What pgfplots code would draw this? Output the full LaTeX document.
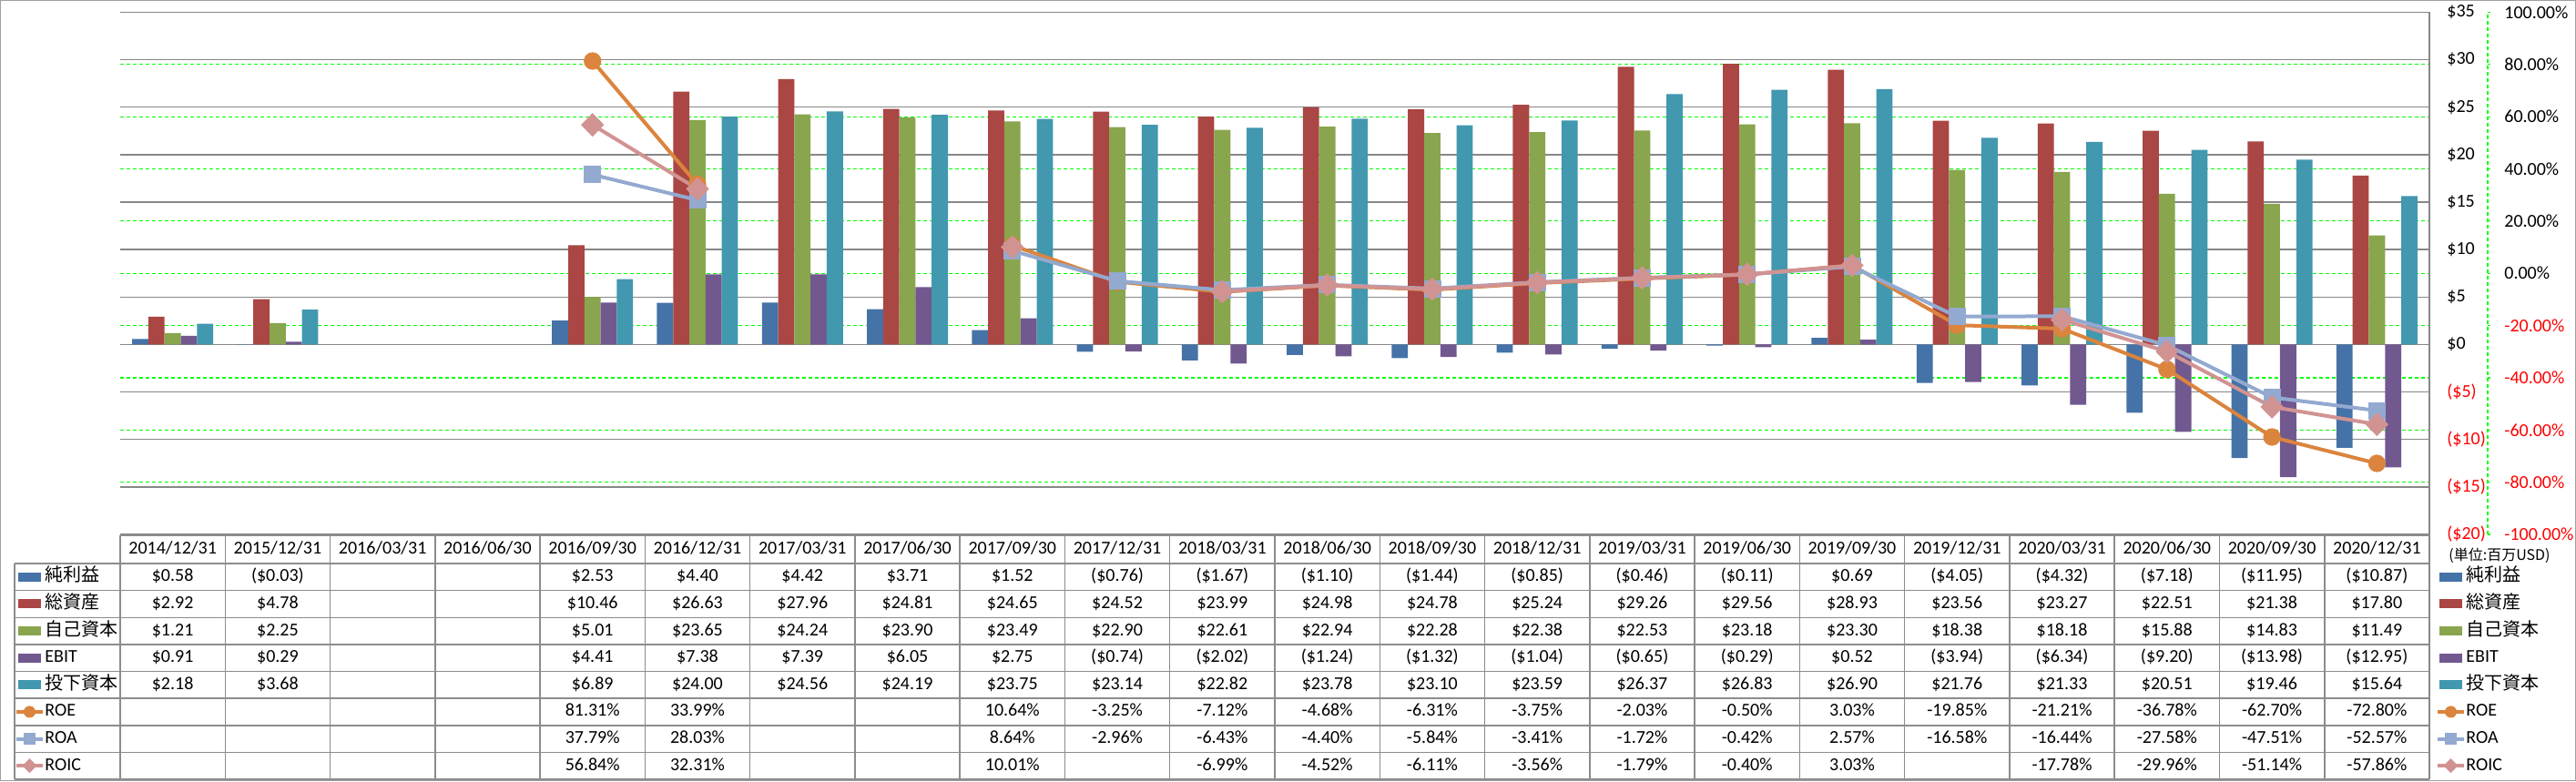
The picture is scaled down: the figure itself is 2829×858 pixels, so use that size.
\documentclass[border=0pt]{standalone}
\usepackage{fontspec}
\setmainfont{Carlito}
\newfontfamily\jp{Noto Sans CJK JP}
\usepackage{pgfplots}
\usepackage{pgfplotstable}
\pgfplotsset{compat=1.18}

\definecolor{cNI}{HTML}{4572A7}
\definecolor{cTA}{HTML}{AA4643}
\definecolor{cEQ}{HTML}{89A54E}
\definecolor{cEB}{HTML}{71588F}
\definecolor{cIC}{HTML}{4198AF}
\definecolor{cROE}{HTML}{DB843D}
\definecolor{cROA}{HTML}{93A9CF}
\definecolor{cROIC}{HTML}{D19392}
\definecolor{gridgray}{HTML}{878787}
\definecolor{tblgray}{HTML}{8C8C8C}
\definecolor{ggreen}{HTML}{00FF00}

\pgfplotstableread{
i  ni     ta     eq     eb     ic     roe    roa    roic
0  0.58   2.92   1.21   0.91   2.18   nan    nan    nan
1  -0.03  4.78   2.25   0.29   3.68   nan    nan    nan
2  nan    nan    nan    nan    nan    nan    nan    nan
3  nan    nan    nan    nan    nan    nan    nan    nan
4  2.53   10.46  5.01   4.41   6.89   81.31  37.79  56.84
5  4.40   26.63  23.65  7.38   24.00  33.99  28.03  32.31
6  4.42   27.96  24.24  7.39   24.56  nan    nan    nan
7  3.71   24.81  23.90  6.05   24.19  nan    nan    nan
8  1.52   24.65  23.49  2.75   23.75  10.64  8.64   10.01
9  -0.76  24.52  22.90  -0.74  23.14  -3.25  -2.96  nan
10 -1.67  23.99  22.61  -2.02  22.82  -7.12  -6.43  -6.99
11 -1.10  24.98  22.94  -1.24  23.78  -4.68  -4.40  -4.52
12 -1.44  24.78  22.28  -1.32  23.10  -6.31  -5.84  -6.11
13 -0.85  25.24  22.38  -1.04  23.59  -3.75  -3.41  -3.56
14 -0.46  29.26  22.53  -0.65  26.37  -2.03  -1.72  -1.79
15 -0.11  29.56  23.18  -0.29  26.83  -0.50  -0.42  -0.40
16 0.69   28.93  23.30  0.52   26.90  3.03   2.57   3.03
17 -4.05  23.56  18.38  -3.94  21.76  -19.85 -16.58 nan
18 -4.32  23.27  18.18  -6.34  21.33  -21.21 -16.44 -17.78
19 -7.18  22.51  15.88  -9.20  20.51  -36.78 -27.58 -29.96
20 -11.95 21.38  14.83  -13.98 19.46  -62.70 -47.51 -51.14
21 -10.87 17.80  11.49  -12.95 15.64  -72.80 -52.57 -57.86
}\data

\pgfplotsset{
  base/.style={
    at={(66pt,-293.5pt)}, anchor=south west, scale only axis,
    width=1268pt, height=286.8pt,
    xmin=-0.5, xmax=21.5,
  },
}

\tikzset{cell/.style={inner sep=0pt, text height=7pt, text depth=2pt, anchor=center, font=\fontsize{10pt}{12pt}\selectfont}}

\newcommand\trow[2]{%
  \foreach \v [count=\k from 0] in {#2} {\node[cell] at ({132+(\k+0.5)*115.2727},{619+(#1+0.5)*29.625}) {\v};}}

\newcommand\legendkeys[1]{% #1 = x offset of key
  \fill[cNI]  (#1,628.8) rectangle ++(25,10);
  \fill[cTA]  (#1,658.4) rectangle ++(25,10);
  \fill[cEQ]  (#1,688.1) rectangle ++(25,10);
  \fill[cEB]  (#1,717.7) rectangle ++(25,10);
  \fill[cIC]  (#1,747.3) rectangle ++(25,10);
  \draw[cROE, line width=2pt] ({#1-2},781.9) -- ++(29,0);
  \fill[cROE] ({#1+12.5},781.9) circle (6.5);
  \draw[cROA, line width=2pt] ({#1-2},811.6) -- ++(29,0);
  \fill[cROA] ({#1+6},805.1) rectangle ++(13,13);
  \draw[cROIC, line width=2pt] ({#1-2},841.2) -- ++(29,0);
  \fill[cROIC] ({#1+12.5},833.2) -- ++(8,8) -- ++(-8,8) -- ++(-8,-8) -- cycle;
}

\newcommand\legendtexts[1]{%
  \node[cell, anchor=west] at (#1,633.8) {\jp 純利益};
  \node[cell, anchor=west] at (#1,663.4) {\jp 総資産};
  \node[cell, anchor=west] at (#1,693.1) {\jp 自己資本};
  \node[cell, anchor=west] at (#1,722.7) {EBIT};
  \node[cell, anchor=west] at (#1,752.3) {\jp 投下資本};
  \node[cell, anchor=west] at (#1,781.9) {ROE};
  \node[cell, anchor=west] at (#1,811.6) {ROA};
  \node[cell, anchor=west] at (#1,841.2) {ROIC};
}

\begin{document}
\begin{tikzpicture}
\begin{scope}[x=0.5pt,y=-0.5pt]
  \useasboundingbox (0,0) rectangle (2829,858);
  \draw[gray!75, line width=0.6pt] (0.6,0.6) rectangle (2828.4,857.4);
\end{scope}

% secondary (percent) axis: green grid, axis line and labels
\begin{axis}[base,
  ymin=-100, ymax=100,
  axis x line=none, axis y line*=right,
  y axis line style={ggreen, dash pattern=on 2pt off 1.5pt, line width=0.6pt, xshift=32pt},
  ytick={-100,-80,...,100},
  yticklabels={{\color{red}-100.00\%},{\color{red}-80.00\%},{\color{red}-60.00\%},{\color{red}-40.00\%},{\color{red}-20.00\%},0.00\%,20.00\%,40.00\%,60.00\%,80.00\%,100.00\%},
  tick align=outside, major tick length=1.5pt,
  ytick style={ggreen, line width=0.6pt, xshift=32pt},
  yticklabel style={anchor=west, inner sep=0pt, xshift=39.5pt, font=\fontsize{10pt}{12pt}\selectfont},
  ymajorgrids,
  major grid style={ggreen, dash pattern=on 2pt off 1.5pt, line width=0.6pt},
]
\addplot[draw=none] coordinates {(0,0)};
\end{axis}

% primary (USD) axis with bars
\begin{axis}[base,
  ymin=-20, ymax=35,
  axis x line=none, axis y line*=right,
  y axis line style={gridgray, line width=0.75pt},
  ytick={-20,-15,...,35},
  yticklabels={{\color{red}(\$20)},{\color{red}(\$15)},{\color{red}(\$10)},{\color{red}(\$5)},\$0,\$5,\$10,\$15,\$20,\$25,\$30,\$35},
  major tick length=0pt,
  yticklabel style={anchor=west, inner sep=0pt, xshift=9.5pt, font=\fontsize{10pt}{12pt}\selectfont},
  ymajorgrids,
  major grid style={gridgray, line width=0.75pt},
  ybar=0pt, bar width=8.9pt,
]
\addplot[fill=cNI, draw=none] table[x=i, y=ni]{\data};
\addplot[fill=cTA, draw=none] table[x=i, y=ta]{\data};
\addplot[fill=cEQ, draw=none] table[x=i, y=eq]{\data};
\addplot[fill=cEB, draw=none] table[x=i, y=eb]{\data};
\addplot[fill=cIC, draw=none] table[x=i, y=ic]{\data};
\end{axis}

% percent lines
\begin{axis}[base,
  ymin=-100, ymax=100, hide axis, clip=false,
  unbounded coords=jump,
]
\addplot[cROE, line width=2pt, mark=*, mark size=4.6pt, mark options={fill=cROE, line width=0.4pt}] table[x=i, y=roe]{\data};
\addplot[cROA, line width=2pt, mark=square*, mark size=4.5pt, mark options={fill=cROA, line width=0.4pt}] table[x=i, y=roa]{\data};
\addplot[cROIC, line width=2pt, mark=diamond*, mark size=6.2pt, mark options={fill=cROIC, line width=0.4pt, xscale=1.3}] table[x=i, y=roic]{\data};
\end{axis}

\begin{scope}[x=0.5pt,y=-0.5pt]
  % table grid
  \draw[tblgray, line width=0.75pt] (132,588) -- (2668,588);
  \foreach \r in {0,...,8} \draw[tblgray, line width=0.75pt] (16,{619+\r*29.625}) -- (2668,{619+\r*29.625});
  \draw[tblgray, line width=0.75pt] (16,619) -- (16,856);
  \foreach \k in {0,...,21} \draw[tblgray, line width=0.75pt] ({132+\k*115.2727},588) -- ({132+\k*115.2727},856);
  \draw[gridgray, line width=0.75pt] (2668,13.4) -- (2668,856);

  % header
  \foreach \d [count=\k from 0] in {2014/12/31,2015/12/31,2016/03/31,2016/06/30,2016/09/30,2016/12/31,2017/03/31,2017/06/30,2017/09/30,2017/12/31,2018/03/31,2018/06/30,2018/09/30,2018/12/31,2019/03/31,2019/06/30,2019/09/30,2019/12/31,2020/03/31,2020/06/30,2020/09/30,2020/12/31}
    {\node[cell] at ({132+(\k+0.5)*115.2727},603.5) {\d};}

  \trow{0}{{\$0.58},{(\$0.03)},{},{},{\$2.53},{\$4.40},{\$4.42},{\$3.71},{\$1.52},{(\$0.76)},{(\$1.67)},{(\$1.10)},{(\$1.44)},{(\$0.85)},{(\$0.46)},{(\$0.11)},{\$0.69},{(\$4.05)},{(\$4.32)},{(\$7.18)},{(\$11.95)},{(\$10.87)}}
  \trow{1}{{\$2.92},{\$4.78},{},{},{\$10.46},{\$26.63},{\$27.96},{\$24.81},{\$24.65},{\$24.52},{\$23.99},{\$24.98},{\$24.78},{\$25.24},{\$29.26},{\$29.56},{\$28.93},{\$23.56},{\$23.27},{\$22.51},{\$21.38},{\$17.80}}
  \trow{2}{{\$1.21},{\$2.25},{},{},{\$5.01},{\$23.65},{\$24.24},{\$23.90},{\$23.49},{\$22.90},{\$22.61},{\$22.94},{\$22.28},{\$22.38},{\$22.53},{\$23.18},{\$23.30},{\$18.38},{\$18.18},{\$15.88},{\$14.83},{\$11.49}}
  \trow{3}{{\$0.91},{\$0.29},{},{},{\$4.41},{\$7.38},{\$7.39},{\$6.05},{\$2.75},{(\$0.74)},{(\$2.02)},{(\$1.24)},{(\$1.32)},{(\$1.04)},{(\$0.65)},{(\$0.29)},{\$0.52},{(\$3.94)},{(\$6.34)},{(\$9.20)},{(\$13.98)},{(\$12.95)}}
  \trow{4}{{\$2.18},{\$3.68},{},{},{\$6.89},{\$24.00},{\$24.56},{\$24.19},{\$23.75},{\$23.14},{\$22.82},{\$23.78},{\$23.10},{\$23.59},{\$26.37},{\$26.83},{\$26.90},{\$21.76},{\$21.33},{\$20.51},{\$19.46},{\$15.64}}
  \trow{5}{{},{},{},{},{81.31\%},{33.99\%},{},{},{10.64\%},{-3.25\%},{-7.12\%},{-4.68\%},{-6.31\%},{-3.75\%},{-2.03\%},{-0.50\%},{3.03\%},{-19.85\%},{-21.21\%},{-36.78\%},{-62.70\%},{-72.80\%}}
  \trow{6}{{},{},{},{},{37.79\%},{28.03\%},{},{},{8.64\%},{-2.96\%},{-6.43\%},{-4.40\%},{-5.84\%},{-3.41\%},{-1.72\%},{-0.42\%},{2.57\%},{-16.58\%},{-16.44\%},{-27.58\%},{-47.51\%},{-52.57\%}}
  \trow{7}{{},{},{},{},{56.84\%},{32.31\%},{},{},{10.01\%},{},{-6.99\%},{-4.52\%},{-6.11\%},{-3.56\%},{-1.79\%},{-0.40\%},{3.03\%},{},{-17.78\%},{-29.96\%},{-51.14\%},{-57.86\%}}

  % row legend keys (left) and legend (right)
  \legendkeys{20}
  \legendtexts{49}
  \legendkeys{2679}
  \legendtexts{2708}
  \node[inner sep=0pt, anchor=center, font=\jp\fontsize{8pt}{10pt}\selectfont] at (2745,610) {(単位:百万USD)};
\end{scope}
\end{tikzpicture}
\end{document}
